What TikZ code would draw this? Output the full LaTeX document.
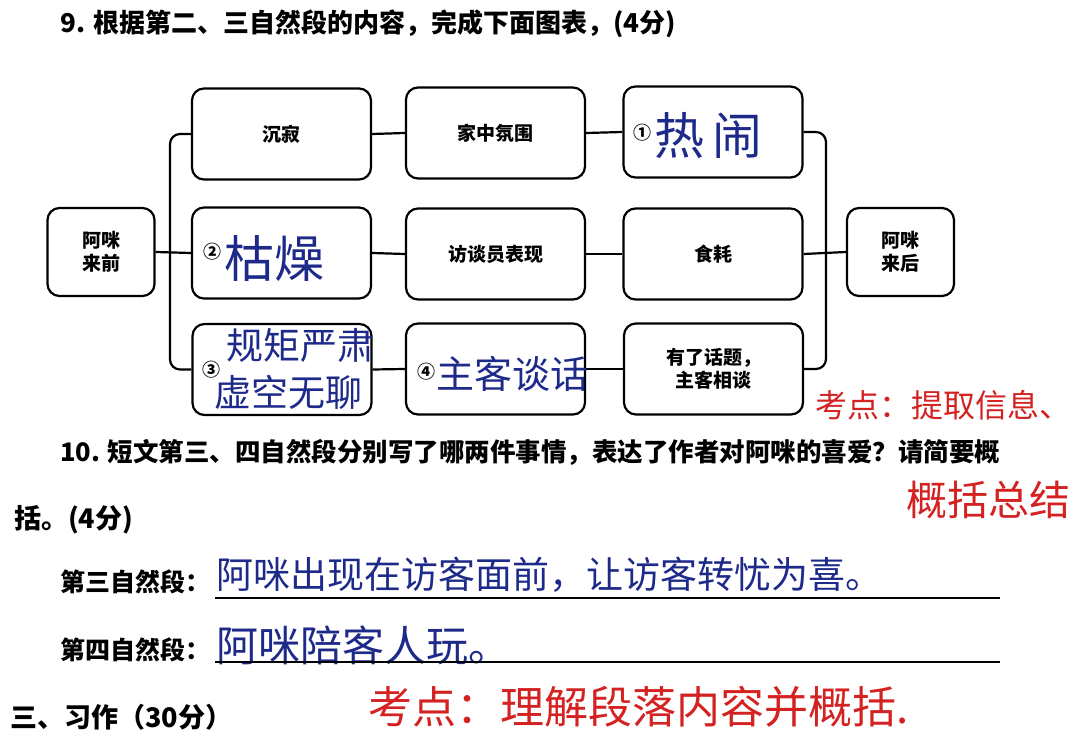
\documentclass[tikz,border=0pt]{standalone}
\usepackage{fontspec}
\newfontfamily\cjk{Noto Sans CJK SC}
\begin{document}
\begin{tikzpicture}[x=1pt,y=-1pt,
  every node/.style={font=\cjk},
  box/.style={draw, line width=2.2pt, rounded corners=12pt, minimum width=179pt, minimum height=91pt, inner sep=0pt, fill=white},
  sidebox/.style={box, minimum width=107pt, minimum height=88pt},
  conn/.style={line width=2.2pt},
  printed/.style={font=\cjk\bfseries\fontsize{19}{23}\selectfont, align=center},
  heading/.style={font=\cjk\bfseries\fontsize{25.5}{28}\selectfont, anchor=west, inner sep=0pt},
  circnum/.style={font=\cjk\bfseries\fontsize{18}{20}\selectfont, inner sep=0pt},
  hand/.style={text=inkblue, inner sep=0pt},
  redhand/.style={text=inkred, inner sep=0pt, anchor=west},
  uline/.style={line width=2pt}
]
\definecolor{inkblue}{HTML}{1E2A8A}
\definecolor{inkred}{HTML}{D42222}
\useasboundingbox (0,0) rectangle (1080,749);
\fill[white] (0,0) rectangle (1080,749);

% title
\node[heading, font=\cjk\bfseries\fontsize{26}{29}\selectfont] (t9) at (60,24) {9. 根据第二、三自然段的内容，完成下面图表，(4分)};

% side nodes
\node[sidebox] (L) at (101,252) {};
\node[printed] (Lt) at (L.center) {阿咪\\来前};
\node[sidebox] (R) at (900.5,252) {};
\node[printed] (Rt) at (R.center) {阿咪\\来后};

% grid boxes
\node[box] (a1) at (281.5,134) {};
\node[box] (a2) at (495.5,133) {};
\node[box] (a3) at (713,132) {};
\node[box] (b1) at (281.5,253) {};
\node[box] (b2) at (495.5,254) {};
\node[box] (b3) at (713,254) {};
\node[box] (c1) at (282,369.5) {};
\node[box] (c2) at (495.5,369) {};
\node[box] (c3) at (713.5,369) {};

% bus coordinates
\coordinate (lbus) at (170,252);
\coordinate (rbus) at (826,252);

% connectors
\draw[conn] (L.east) -- (b1.west);
\draw[conn, rounded corners=10pt] (a1.west) -- (a1.west -| lbus) -- (c1.west -| lbus) -- (c1.west);
\draw[conn, rounded corners=10pt] (a3.east) -- (a3.east -| rbus) -- (c3.east -| rbus) -- (c3.east);
\draw[conn] (b3.east) -- (R.west);
\draw[conn] (a1.east) -- (a2.west);
\draw[conn] (a2.east) -- (a3.west);
\draw[conn] (b1.east) -- (b2.west);
\draw[conn] (b2.east) -- (b3.west);
\draw[conn] (c1.east) -- (c2.west);
\draw[conn] (c2.east) -- (c3.west);

% printed texts in boxes
\node[printed] (a1t) at (a1.center) {沉寂};
\node[printed] (a2t) at (a2.center) {家中氛围};
\node[printed] (b2t) at (b2.center) {访谈员表现};
\node[printed] (b3t) at (b3.center) {食耗};
\node[printed] (c3t) at (c3.center) {有了话题，\\主客相谈};

% handwritten answers in boxes
\node[circnum] (n1) at (642,133) {①};
\node[hand, anchor=west, font=\cjk\fontsize{50}{50}\selectfont] (h1) at (654,136) {热\,闹};
\node[circnum] (n2) at (212,252) {②};
\node[hand, anchor=west, font=\cjk\fontsize{50}{50}\selectfont] (h2) at (224,258) {枯燥};
\node[circnum] (n3) at (211,370) {③};
\node[hand, anchor=west, font=\cjk\fontsize{37}{40}\selectfont, align=left] (h3a) at (226,345) {规矩严肃};
\node[hand, anchor=west, font=\cjk\fontsize{37}{40}\selectfont, align=left] (h3b) at (214,392) {虚空无聊};
\node[circnum] (n4) at (426,372) {④};
\node[hand, anchor=west, font=\cjk\fontsize{38}{40}\selectfont] (h4) at (436,374) {主客谈话};

% question 10
\node[heading] (t10) at (60,452) {10. 短文第三、四自然段分别写了哪两件事情，表达了作者对阿咪的喜爱？请简要概};
\node[heading, font=\cjk\bfseries\fontsize{27}{30}\selectfont] (t10b) at (14,520) {括。(4分)};

\node[heading, font=\cjk\bfseries\fontsize{25}{28}\selectfont] (p3) at (60,582) {第三自然段：};
\node[hand, anchor=west, font=\cjk\fontsize{37}{40}\selectfont] (ans3) at (216,575) {阿咪出现在访客面前，让访客转忧为喜。};
\coordinate (u3s) at (215,598);
\coordinate (u3e) at (1000,598);
\draw[uline] (u3s) -- (u3e);

\node[heading, font=\cjk\bfseries\fontsize{25}{28}\selectfont] (p4) at (60,650) {第四自然段：};
\node[hand, anchor=west, font=\cjk\fontsize{42}{44}\selectfont] (ans4) at (216,645) {阿咪陪客人玩。};
\coordinate (u4s) at (215,662);
\coordinate (u4e) at (1000,662);
\draw[uline] (u4s) -- (u4e);

\node[heading, font=\cjk\bfseries\fontsize{27}{30}\selectfont] (t3) at (10,717) {三、习作（30分）};

% red marks
\node[redhand, font=\cjk\fontsize{32}{36}\selectfont] (r1) at (815,405) {考点：提取信息、};
\node[redhand, font=\cjk\fontsize{41}{44}\selectfont] (r2) at (906,500) {概括总结};
\node[redhand, font=\cjk\fontsize{44}{46}\selectfont] (r3) at (368,707) {考点：理解段落内容并概括.};
\end{tikzpicture}
\end{document}
